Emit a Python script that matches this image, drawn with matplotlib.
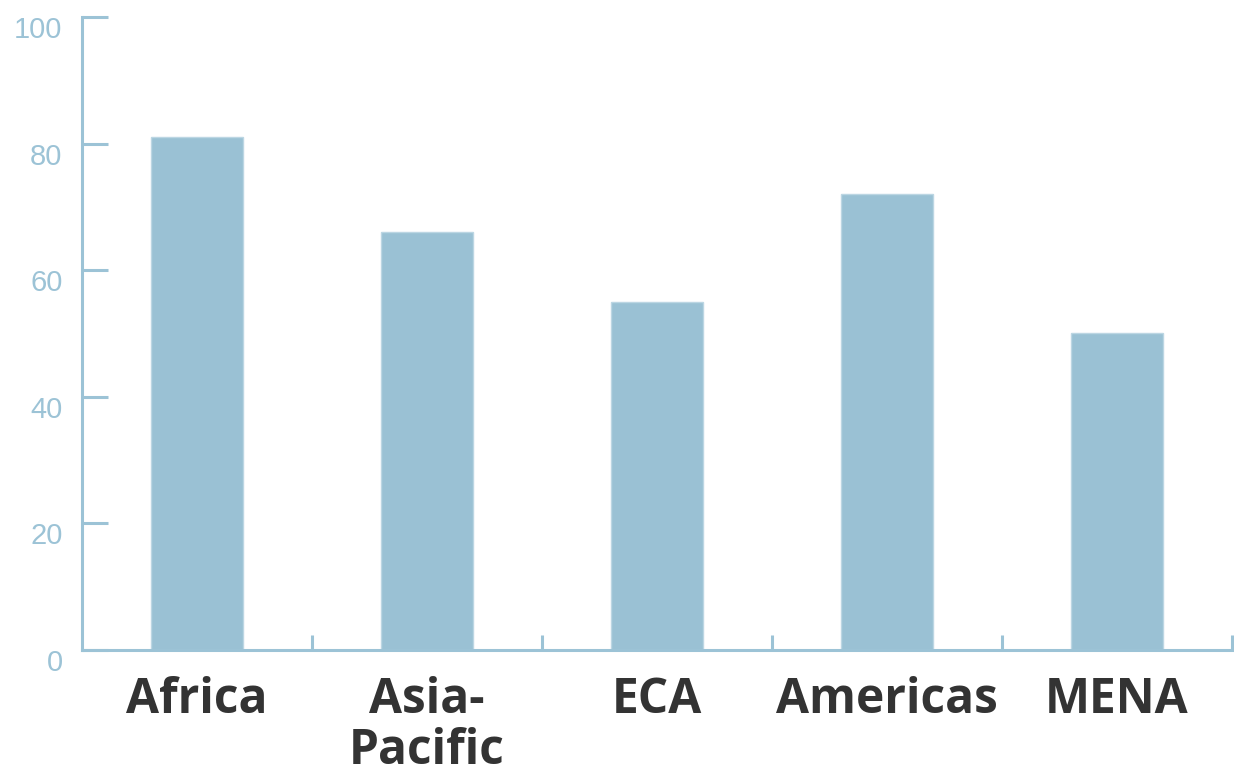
import matplotlib.pyplot as plt
from matplotlib.transforms import ScaledTranslation

# Data
regions = ['Africa', 'Asia-\nPacific', 'ECA', 'Americas', 'MENA']
values = [81, 66, 55, 72, 50]
y_ticks = [0, 20, 40, 60, 80, 100]

axis_color = '#9cc3d6'
bar_color = '#9ac1d4'

fig = plt.figure(figsize=(12.34, 7.71), dpi=100)
ax = fig.add_axes([0.0665, 0.157, 0.9315, 0.821])

x = list(range(len(regions)))
ax.bar(x, values, width=0.4, color=bar_color, edgecolor='#bcd6e3', linewidth=1, zorder=2)

ax.set_xlim(-0.5, len(regions) - 0.5)
ax.set_ylim(0, 100)

# spines
for side in ['top', 'right']:
    ax.spines[side].set_visible(False)
for side in ['left', 'bottom']:
    ax.spines[side].set_color(axis_color)
    ax.spines[side].set_linewidth(2.2)
    ax.spines[side].set_zorder(3)

# y ticks point inward, labels sit a little below the tick
ax.set_yticks(y_ticks)
ax.set_yticklabels([str(t) for t in y_ticks])
ax.tick_params(axis='y', direction='in', length=19, width=2.2, color=axis_color,
               labelcolor=axis_color, labelsize=21, pad=14)
for lab in ax.get_yticklabels():
    lab.set_fontfamily('Liberation Sans')
    lab.set_transform(lab.get_transform() + ScaledTranslation(0, -10 / 100, fig.dpi_scale_trans))

# x: boundary ticks (major) and category labels (minor)
ax.set_xticks([i + 0.5 for i in x])
ax.set_xticklabels([])
ax.tick_params(axis='x', which='major', direction='in', length=11, width=2.2, color=axis_color)
ax.set_xticks(x, minor=True)
ax.set_xticklabels(regions, minor=True, fontsize=34.5, fontweight='bold',
                   fontfamily='Open Sans', color='#333333', linespacing=1.05)
ax.tick_params(axis='x', which='minor', length=0, pad=19)

fig.savefig('out.png', dpi=100)
